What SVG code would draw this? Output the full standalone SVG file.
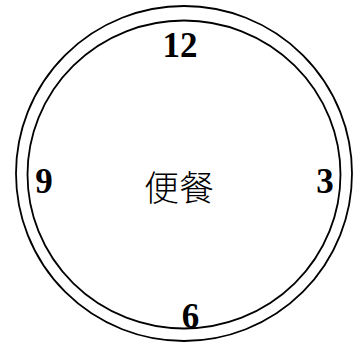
<svg xmlns="http://www.w3.org/2000/svg" width="356" height="344" viewBox="0 0 356 344">
<style>
.ring{fill:none;stroke:#000;stroke-width:1.8}
.num{font-family:"Liberation Serif","Times New Roman",serif;font-weight:bold;font-size:35px;fill:#000;text-anchor:middle}
.lbl{font-family:"Noto Sans CJK SC","Noto Sans CJK TC",sans-serif;font-size:35px;fill:#000;text-anchor:middle;font-weight:300}
</style>
<rect width="356" height="344" fill="#fff"/>
<g id="clock-face">
<ellipse class="ring" cx="184" cy="173.5" rx="168" ry="167.5"/>
<ellipse class="ring" cx="184" cy="174.5" rx="156.5" ry="154"/>
</g>
<g id="n12"><text class="num" x="180" y="57">12</text></g>
<g id="n3"><text class="num" x="325" y="193">3</text></g>
<g id="n6"><text class="num" x="190.5" y="328">6</text></g>
<g id="n9"><text class="num" x="44" y="193">9</text></g>
<g id="center"><text class="lbl" x="179" y="201">便餐</text></g>
</svg>
